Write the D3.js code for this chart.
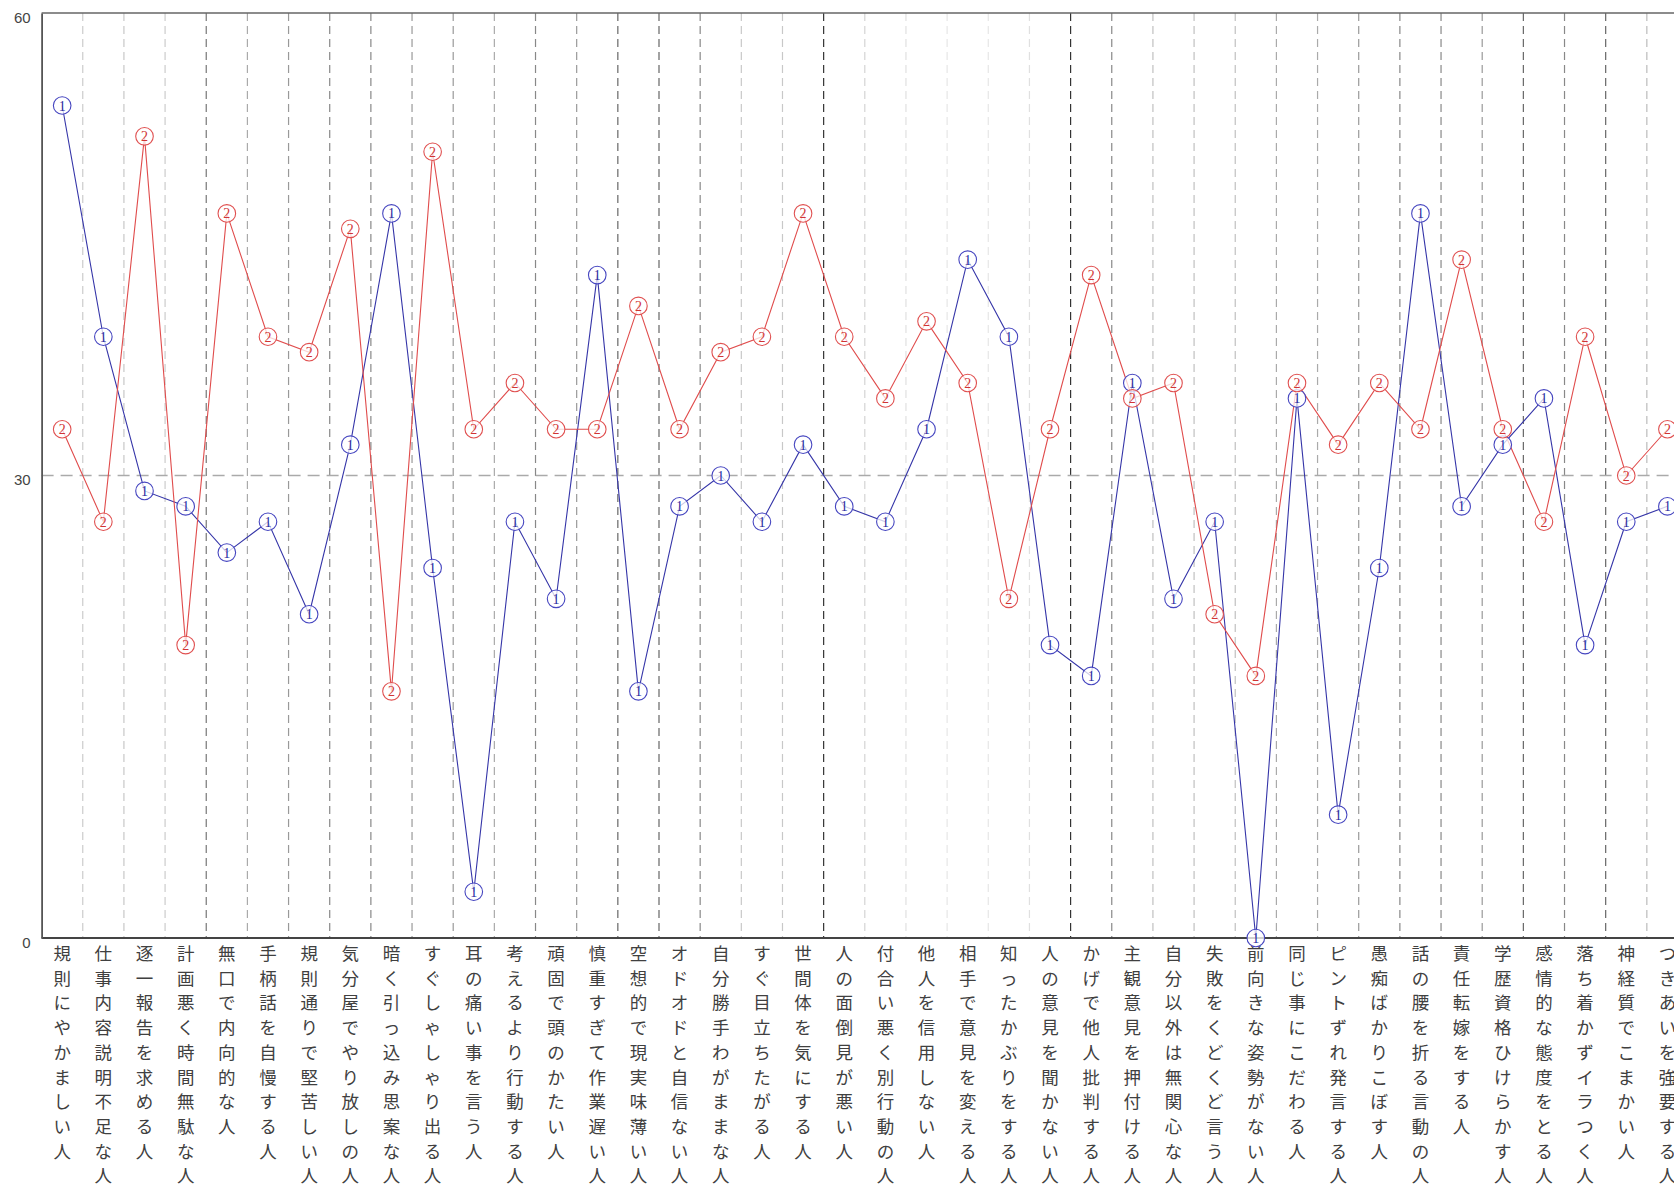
<!DOCTYPE html>
<html>
<head>
<meta charset="utf-8">
<script src="https://cdn.jsdelivr.net/npm/d3@7"></script>
<style>
  html, body { margin: 0; padding: 0; background: #fff; overflow: hidden; }
  svg { display: block; }
</style>
</head>
<body>
<svg id="chart" width="1674" height="1189"></svg>
<script>
// ---- data ----
const categories = [
  "規則にやかましい人", "仕事内容説明不足な人", "逐一報告を求める人", "計画悪く時間無駄な人",
  "無口で内向的な人", "手柄話を自慢する人", "規則通りで堅苦しい人", "気分屋でやり放しの人",
  "暗く引っ込み思案な人", "すぐしゃしゃり出る人", "耳の痛い事を言う人", "考えるより行動する人",
  "頑固で頭のかたい人", "慎重すぎて作業遅い人", "空想的で現実味薄い人", "オドオドと自信ない人",
  "自分勝手わがままな人", "すぐ目立ちたがる人", "世間体を気にする人", "人の面倒見が悪い人",
  "付合い悪く別行動の人", "他人を信用しない人", "相手で意見を変える人", "知ったかぶりをする人",
  "人の意見を聞かない人", "かげで他人批判する人", "主観意見を押付ける人", "自分以外は無関心な人",
  "失敗をくどくど言う人", "前向きな姿勢がない人", "同じ事にこだわる人", "ピントずれ発言する人",
  "愚痴ばかりこぼす人", "話の腰を折る言動の人", "責任転嫁をする人", "学歴資格ひけらかす人",
  "感情的な態度をとる人", "落ち着かずイラつく人", "神経質でこまかい人", "つきあいを強要する人"
];
const series1 = [54, 39, 29, 28, 25, 27, 21, 32, 47, 24, 3, 27, 22, 43, 16, 28, 30, 27, 32, 28,
                 27, 33, 44, 39, 19, 17, 36, 22, 27, 0, 35, 8, 24, 47, 28, 32, 35, 19, 27, 28];
const series2 = [33, 27, 52, 19, 47, 39, 38, 46, 16, 51, 33, 36, 33, 33, 41, 33, 38, 39, 47, 39,
                 35, 40, 36, 22, 33, 43, 35, 36, 21, 17, 36, 32, 36, 33, 44, 33, 27, 39, 30, 33];
const seriesLabels = ["1", "2"];
const yTicks = [0, 30, 60];

// ---- styles ----
const gridTones = ["#ccc", "#c8c8c8", "#ccc", "#777", "#aaa", "#999", "#888", "#888", "#999",
  "#999", "#aaa", "#888", "#999", "#666", "#666", "#888", "#c8c8c8", "#c8c8c8", "#333",
  "#d4d4d4", "#e0e0e0", "#e6e6e6", "#e6e6e6", "#e0e0e0", "#333", "#888", "#c0c0c0", "#c0c0c0",
  "#c0c0c0", "#aaa", "#aaa", "#999", "#888", "#888", "#999", "#666", "#888", "#666", "#bbb"];
const colors = [
  { line: "#3535a8", mark: "#4646c0", text: "#2a2aa0" },
  { line: "#e04c4c", mark: "#e05050", text: "#d03434" }
];

const svg = d3.select("#chart");
const plotLeft = 41.6, plotTop = 13, plotBottom = 938, band = 41.16;
const plotRight = plotLeft + band * categories.length;

const x = d3.scaleBand().domain(d3.range(categories.length)).range([plotLeft, plotRight]).padding(0);
const y = d3.scaleLinear().domain([0, 60]).range([plotBottom, plotTop]);
const cx = i => x(i) + x.bandwidth() / 2;

// vertical gridlines between categories
svg.append("g").selectAll("line")
  .data(d3.range(1, categories.length))
  .join("line")
  .attr("x1", k => x(k)).attr("x2", k => x(k))
  .attr("y1", plotTop).attr("y2", plotBottom)
  .attr("stroke", k => gridTones[k - 1])
  .attr("stroke-width", 1.2)
  .attr("stroke-dasharray", "8,5");

// horizontal gridline at 30
svg.append("line")
  .attr("x1", plotLeft).attr("x2", plotRight)
  .attr("y1", y(30)).attr("y2", y(30))
  .attr("stroke", "#aaa").attr("stroke-width", 1.5)
  .attr("stroke-dasharray", "12,7");

// frame: top, bottom
svg.append("line").attr("x1", plotLeft).attr("x2", plotRight).attr("y1", plotTop).attr("y2", plotTop)
  .attr("stroke", "#666").attr("stroke-width", 1.5);
svg.append("line").attr("x1", plotLeft).attr("x2", plotRight).attr("y1", plotBottom).attr("y2", plotBottom)
  .attr("stroke", "#444").attr("stroke-width", 1.8);

// y axis
const yAxis = svg.append("g")
  .attr("transform", `translate(${plotLeft},0)`)
  .call(d3.axisLeft(y).tickValues(yTicks).tickSize(0).tickPadding(11).tickFormat(d3.format("d")));
yAxis.select(".domain").attr("stroke", "#555").attr("stroke-width", 1.8);
yAxis.selectAll("text")
  .attr("font-family", "'Liberation Sans', Arial, sans-serif")
  .attr("font-size", 15).attr("fill", "#444").attr("dy", "0.62em");

// x category labels (vertical, char by char)
const labels = svg.append("g")
  .attr("font-family", "'Noto Sans CJK JP', sans-serif")
  .attr("font-size", 17.5).attr("fill", "#404040").attr("text-anchor", "middle");
categories.forEach((c, i) => {
  const t = labels.append("text").attr("x", cx(i)).attr("y", 960);
  Array.from(c).forEach((ch, j) => {
    t.append("tspan").attr("x", cx(i)).attr("dy", j === 0 ? 0 : 24.7).text(ch);
  });
});

// series lines and markers
const allSeries = [series1, series2];
const lineGen = d3.line().x((d, i) => cx(i)).y(d => y(d));
allSeries.forEach((s, si) => {
  svg.append("path").datum(s)
    .attr("d", lineGen)
    .attr("fill", "none")
    .attr("stroke", colors[si].line)
    .attr("stroke-width", 1.1);
});
allSeries.forEach((s, si) => {
  const g = svg.append("g").selectAll("g").data(s).join("g")
    .attr("transform", (d, i) => `translate(${cx(i)},${y(d)})`);
  g.append("circle").attr("r", 8.8)
    .attr("fill", "rgba(255,255,255,0.75)")
    .attr("stroke", colors[si].mark).attr("stroke-width", 1.1);
  g.append("text").text(seriesLabels[si])
    .attr("text-anchor", "middle").attr("dy", "0.36em")
    .attr("font-family", "'Liberation Serif', 'DejaVu Serif', serif")
    .attr("font-size", 14).attr("fill", colors[si].text);
});
</script>
</body>
</html>
